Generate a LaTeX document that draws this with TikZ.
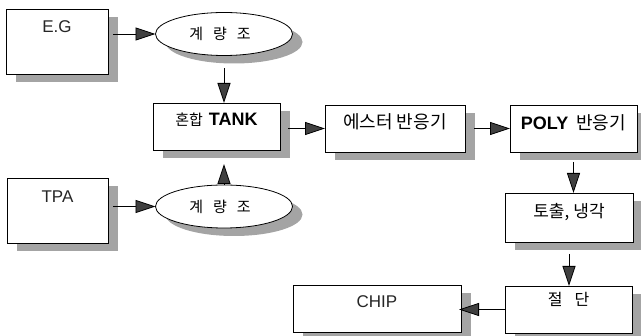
\documentclass[tikz,border=0pt]{standalone}
\usepackage{fontspec}
\setmainfont{Liberation Sans}
\newfontfamily\kr{Noto Sans CJK KR}
\usetikzlibrary{arrows.meta,shapes.geometric,shadows}
\definecolor{shadowgray}{HTML}{A4A4A4}
\tikzset{
  base/.style={draw=black, line width=0.8pt, fill=white, inner sep=0pt, outer sep=0pt,
    drop shadow={shadow xshift=10pt, shadow yshift=-8pt, fill=shadowgray, opacity=1}},
  box/.style={base, rectangle},
  oval/.style={base, ellipse, minimum width=137pt, minimum height=43pt},
  lat/.style={font=\fontsize{17}{17}\selectfont, text=black!85},
  kor/.style={font=\fontsize{18}{18}\selectfont\kr},
  arr/.style={draw=black, line width=0.8pt, -{Triangle[length=20pt,width=13pt,fill=black!75]}}
}
\begin{document}
\begin{tikzpicture}[x=1pt, y=-1pt]
\useasboundingbox (0,0) rectangle (641,336);
% boxes
\node[box, minimum width=102pt, minimum height=65pt,
  label={[lat, yshift=14.5pt]center:E.G}] (eg) at (57,41.5) {};
\node[oval, font=\fontsize{15}{15}\selectfont\kr] (m1) at (224,34) {\hspace*{-8pt}계\hspace{10pt}량\hspace{10pt}조};
\node[box, minimum width=127pt, minimum height=47pt,
  label={[yshift=7pt]center:{\fontsize{15}{15}\selectfont\kr 혼합}\hspace{6pt}{\fontsize{18}{18}\selectfont\bfseries TANK}}] (tank) at (216.5,126.5) {};
\node[box, minimum width=140pt, minimum height=47pt,
  label={[kor, yshift=6.5pt]center:에스터\hspace{4pt}반응기}] (est) at (395,128.5) {};
\node[box, minimum width=127pt, minimum height=47pt,
  label={[yshift=5.5pt]center:{\fontsize{18}{18}\selectfont\bfseries POLY}\hspace{8pt}{\fontsize{18}{18}\selectfont\kr 반응기}}] (poly) at (573.5,128.5) {};
\node[box, minimum width=128pt, minimum height=49pt,
  label={[font=\fontsize{17}{17}\selectfont\kr, yshift=5.5pt]center:토출,\hspace{4pt}냉각}] (toc) at (569,217.5) {};
\node[box, minimum width=127pt, minimum height=47pt,
  label={[font=\fontsize{16}{16}\selectfont\kr, yshift=10.5pt]center:절\hspace{12pt}단}] (jeol) at (568.5,309.5) {};
\node[box, minimum width=168pt, minimum height=47pt,
  label={[lat, yshift=6.5pt]center:CHIP}] (chip) at (377,308.5) {};
\node[box, minimum width=101pt, minimum height=65pt,
  label={[lat, yshift=13.5pt]center:TPA}] (tpa) at (57.5,210.5) {};
\node[oval, font=\fontsize{15}{15}\selectfont\kr] (m2) at (224,206.5) {\hspace*{-8pt}계\hspace{10pt}량\hspace{10pt}조};
% connectors
\draw[arr, shorten <=5pt] (eg.east |- m1.west) -- (m1.west);
\draw[arr, shorten <=5pt] (tpa.east |- m2.west) -- (m2.west);
\draw[arr, shorten <=13pt] (m1.south) -- (m1.south |- tank.north);
\draw[arr, shorten >=14pt] (m2.north) -- (m2.north |- tank.south);
\draw[arr, shorten <=8pt] (tank.east |- est.west) -- (est.west);
\draw[arr, shorten <=9pt] (est.east) -- (poly.west);
\draw[arr, shorten <=10pt] (poly.south) -- (poly.south |- toc.north);
\draw[arr, shorten <=12pt] (toc.south) -- (toc.south |- jeol.north);
\draw[arr, shorten >=-2pt] (jeol.west) -- (jeol.west -| chip.east);
\end{tikzpicture}
\end{document}
